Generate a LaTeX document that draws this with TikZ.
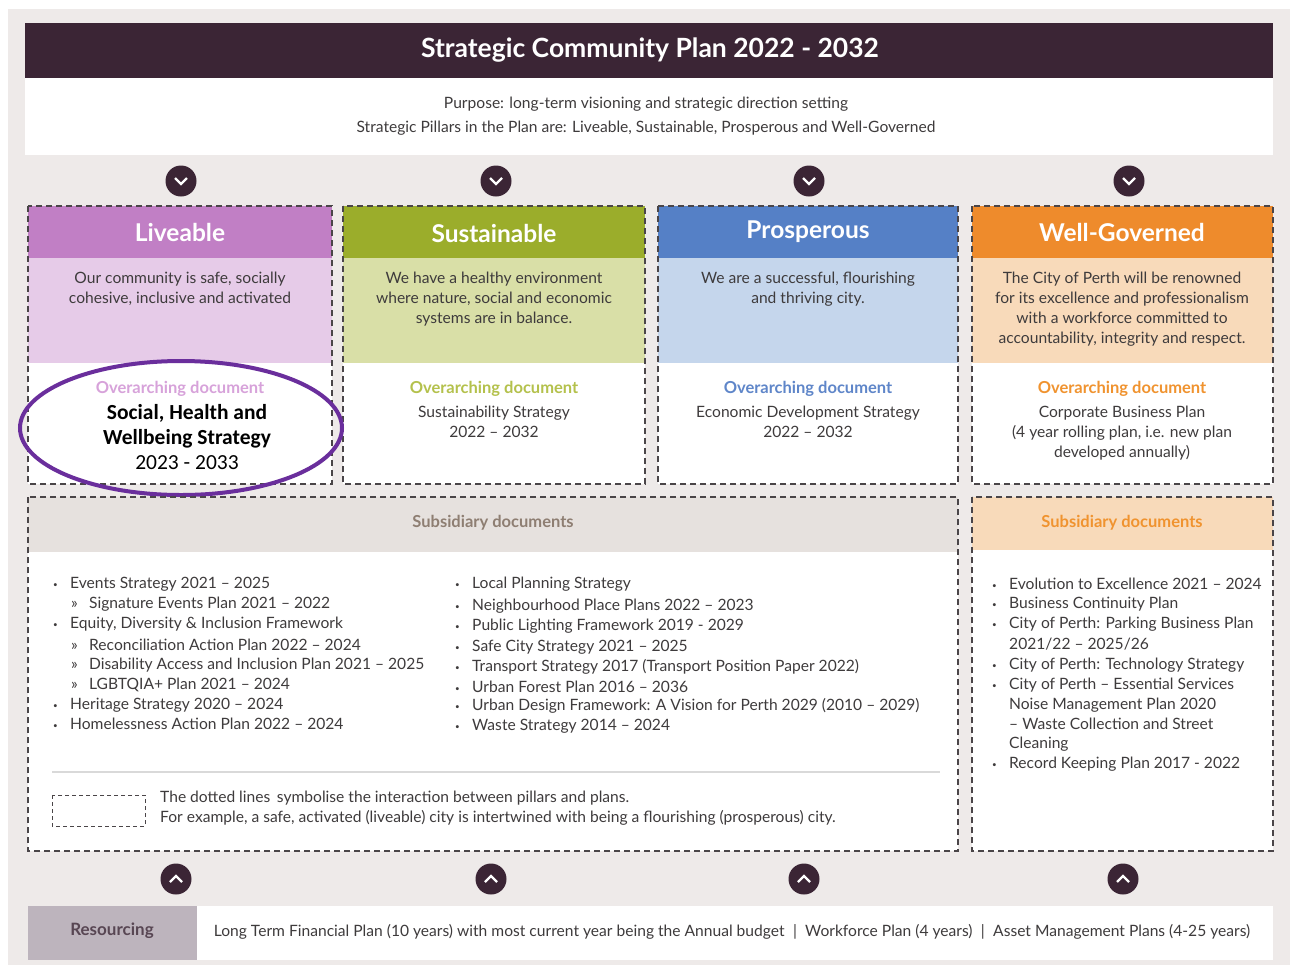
\documentclass[tikz,border=0pt]{standalone}
\usepackage{fontspec}
\setmainfont{Lato}
\newfontfamily\calibri{Carlito}

\definecolor{plum}{HTML}{3B2535}
\definecolor{pagegrey}{HTML}{EEEAE9}
\definecolor{inkgrey}{HTML}{3E3B3C}
\definecolor{dashgrey}{HTML}{4A4548}
\definecolor{liveHead}{HTML}{C17FC5}
\definecolor{liveBand}{HTML}{E6CBE8}
\definecolor{liveText}{HTML}{D7A2DA}
\definecolor{sustHead}{HTML}{9BAD2B}
\definecolor{sustBand}{HTML}{D9DFA7}
\definecolor{sustText}{HTML}{B4C14C}
\definecolor{prosHead}{HTML}{5580C6}
\definecolor{prosBand}{HTML}{C5D6EC}
\definecolor{prosText}{HTML}{5F86C9}
\definecolor{govHead}{HTML}{EE8B2C}
\definecolor{govBand}{HTML}{F8DABA}
\definecolor{govText}{HTML}{F0932F}
\definecolor{subBand}{HTML}{E6E1DE}
\definecolor{subText}{HTML}{8E7E72}
\definecolor{resBox}{HTML}{BDB4BD}
\definecolor{ringpurple}{HTML}{6A2E9C}

\newcommand{\blt}{\makebox[17pt][l]{\raisebox{1pt}{\fontsize{8}{8}\selectfont •}}}
\newcommand{\subblt}{\hspace{18pt}\makebox[18pt][l]{»}}

\tikzset{
  every node/.style={inner sep=0pt, text=inkgrey, font=\fontsize{15.6}{20}\selectfont},
  dashbox/.style={draw=dashgrey, dashed, dash pattern=on 6pt off 4pt, line width=1.3pt},
  pillar/.style={text=white, font=\fontsize{24.5}{28}\selectfont\bfseries},
  overarch/.style={font=\fontsize{16.5}{20}\selectfont\bfseries},
  desc/.style={align=center, anchor=north},
  item/.style={anchor=west},
  chev/.style={circle, fill=plum, minimum size=31pt},
}

\begin{document}
\begin{tikzpicture}[x=1pt,y=-1pt]

  \useasboundingbox (0,0) rectangle (1292,967);
  \fill[white] (0,0) rectangle (1292,967);
  \fill[pagegrey] (8,9) rectangle (1290,965);

  % title
  \fill[plum] (25,23) rectangle (1273,78);
  \fill[white] (25,78) rectangle (1273,155);
  \node[text=white, font=\fontsize{26.5}{30}\selectfont\bfseries] (title) at (650,50) {Strategic Community Plan 2022 - 2032};
  \node[] (purpose) at (646,104) {Purpose: long-term visioning and strategic direction setting};
  \node[] (pillars) at (646,128) {Strategic Pillars in the Plan are: Liveable, Sustainable, Prosperous and Well-Governed};

  % chevrons
  \foreach \x [count=\i] in {181,496,809,1129} {
    \node[chev] (down\i) at (\x,181) {};
    \draw[white, line width=2.2pt] (\x-6,178) -- (\x,184) -- (\x+6,178);
  }
  \foreach \x [count=\i] in {176,491,804,1123} {
    \node[chev] (up\i) at (\x,879) {};
    \draw[white, line width=2.2pt] (\x-6,882) -- (\x,876) -- (\x+6,882);
  }

  % pillar boxes
  \foreach \xa/\xb/\ch/\cl in {28/332/liveHead/liveBand, 343/645/sustHead/sustBand, 658/958/prosHead/prosBand, 972/1273/govHead/govBand} {
    \fill[\ch] (\xa,206) rectangle (\xb,258);
    \fill[\cl] (\xa,258) rectangle (\xb,363);
    \fill[white] (\xa,363) rectangle (\xb,484);
    \draw[dashbox] (\xa,206) rectangle (\xb,484);
  }

  \node[pillar] (liveable) at (180,232) {Liveable};
  \node[pillar] (sustainable) at (494,233) {Sustainable};
  \node[pillar] (prosperous) at (808,232) {Prosperous};
  \node[pillar] (governed) at (1122,232) {Well-Governed};

  \node[desc] (liveDesc) at (180,272) {Our community is safe, socially\\cohesive, inclusive and activated};
  \node[desc] (sustDesc) at (494,272) {We have a healthy environment\\where nature, social and economic\\systems are in balance.};
  \node[desc] (prosDesc) at (808,272) {We are a successful, flourishing\\and thriving city.};
  \node[desc] (govDesc) at (1122,272) {The City of Perth will be renowned\\for its excellence and professionalism\\with a workforce committed to\\accountability, integrity and respect.};

  \node[overarch, text=liveText] (liveOver) at (180,389) {Overarching document};
  \node[overarch, text=sustText] (sustOver) at (494,389) {Overarching document};
  \node[overarch, text=prosText] (prosOver) at (808,389) {Overarching document};
  \node[overarch, text=govText] (govOver) at (1122,389) {Overarching document};

  \node[desc, text=black, font=\calibri\fontsize{21.5}{25}\selectfont] (liveDoc) at (187,404) {\textbf{Social, Health and}\\\textbf{Wellbeing Strategy}\\2023 - 2033};
  \node[desc] (sustDoc) at (494,406) {Sustainability Strategy\\2022 -- 2032};
  \node[desc] (prosDoc) at (808,406) {Economic Development Strategy\\2022 -- 2032};
  \node[desc] (govDoc) at (1122,406) {Corporate Business Plan\\(4 year rolling plan, i.e. new plan\\developed annually)};

  \draw[ringpurple, line width=4pt] (181,428) ellipse [x radius=161, y radius=67];

  % subsidiary documents
  \fill[white] (28,497) rectangle (958,851);
  \fill[subBand] (28,497) rectangle (958,552);
  \draw[dashbox] (28,497) rectangle (958,851);
  \node[overarch, text=subText] (subHead) at (493,523) {Subsidiary documents};

  \fill[white] (972,497) rectangle (1273,851);
  \fill[govBand] (972,497) rectangle (1273,550);
  \draw[dashbox] (972,497) rectangle (1273,851);
  \node[overarch, text=govText] (govSubHead) at (1122,523) {Subsidiary documents};

  \node[item] (l1) at (53,584) {\blt Events Strategy 2021 -- 2025};
  \node[item] (l2) at (53,604) {\subblt Signature Events Plan 2021 -- 2022};
  \node[item] (l3) at (53,624) {\blt Equity, Diversity \& Inclusion Framework};
  \node[item] (l4) at (53,645) {\subblt Reconciliation Action Plan 2022 -- 2024};
  \node[item] (l5) at (53,665) {\subblt Disability Access and Inclusion Plan 2021 -- 2025};
  \node[item] (l6) at (53,685) {\subblt LGBTQIA+ Plan 2021 -- 2024};
  \node[item] (l7) at (53,705) {\blt Heritage Strategy 2020 -- 2024};
  \node[item] (l8) at (53,724) {\blt Homelessness Action Plan 2022 -- 2024};

  \node[item] (m1) at (455,584) {\blt Local Planning Strategy};
  \node[item] (m2) at (455,606) {\blt Neighbourhood Place Plans 2022 -- 2023};
  \node[item] (m3) at (455,626) {\blt Public Lighting Framework 2019 - 2029};
  \node[item] (m4) at (455,647) {\blt Safe City Strategy 2021 -- 2025};
  \node[item] (m5) at (455,667) {\blt Transport Strategy 2017 (Transport Position Paper 2022)};
  \node[item] (m6) at (455,687) {\blt Urban Forest Plan 2016 -- 2036};
  \node[item] (m7) at (455,706) {\blt Urban Design Framework: A Vision for Perth 2029 (2010 -- 2029)};
  \node[item] (m8) at (455,726) {\blt Waste Strategy 2014 -- 2024};

  \node[item] (r1) at (992,584) {\blt Evolution to Excellence 2021 -- 2024};
  \node[item] (r2) at (992,604) {\blt Business Continuity Plan};
  \node[item] (r3) at (992,624) {\blt City of Perth: Parking Business Plan};
  \node[item] (r4) at (1009,644) {2021/22 -- 2025/26};
  \node[item] (r5) at (992,665) {\blt City of Perth: Technology Strategy};
  \node[item] (r6) at (992,685) {\blt City of Perth -- Essential Services};
  \node[item] (r7) at (1009,705) {Noise Management Plan 2020};
  \node[item] (r8) at (1009,724) {-- Waste Collection and Street};
  \node[item] (r9) at (1009,744) {Cleaning};
  \node[item] (r10) at (992,764) {\blt Record Keeping Plan 2017 - 2022};

  % legend
  \draw[black!15, line width=1.5pt] (52,772) -- (940,772);
  \draw[dashbox, line width=1pt, dash pattern=on 4pt off 3pt] (52,795) rectangle (145,826);
  \node[item] (legend1) at (160,798) {The dotted lines\, symbolise the interaction between pillars and plans.};
  \node[item] (legend2) at (160,818) {For example, a safe, activated (liveable) city is intertwined with being a flourishing (prosperous) city.};

  % resourcing
  \fill[resBox] (28,906) rectangle (197,960);
  \fill[white] (197,906) rectangle (1273,960);
  \node[font=\fontsize{17}{20}\selectfont\bfseries, text=plum!85] (resourcing) at (112,931) {Resourcing};
  \node[] (resText) at (732,932) {Long Term Financial Plan (10 years) with most current year being the Annual budget \;|\; Workforce Plan (4 years) \;|\; Asset Management Plans (4-25 years)};

\end{tikzpicture}
\end{document}
